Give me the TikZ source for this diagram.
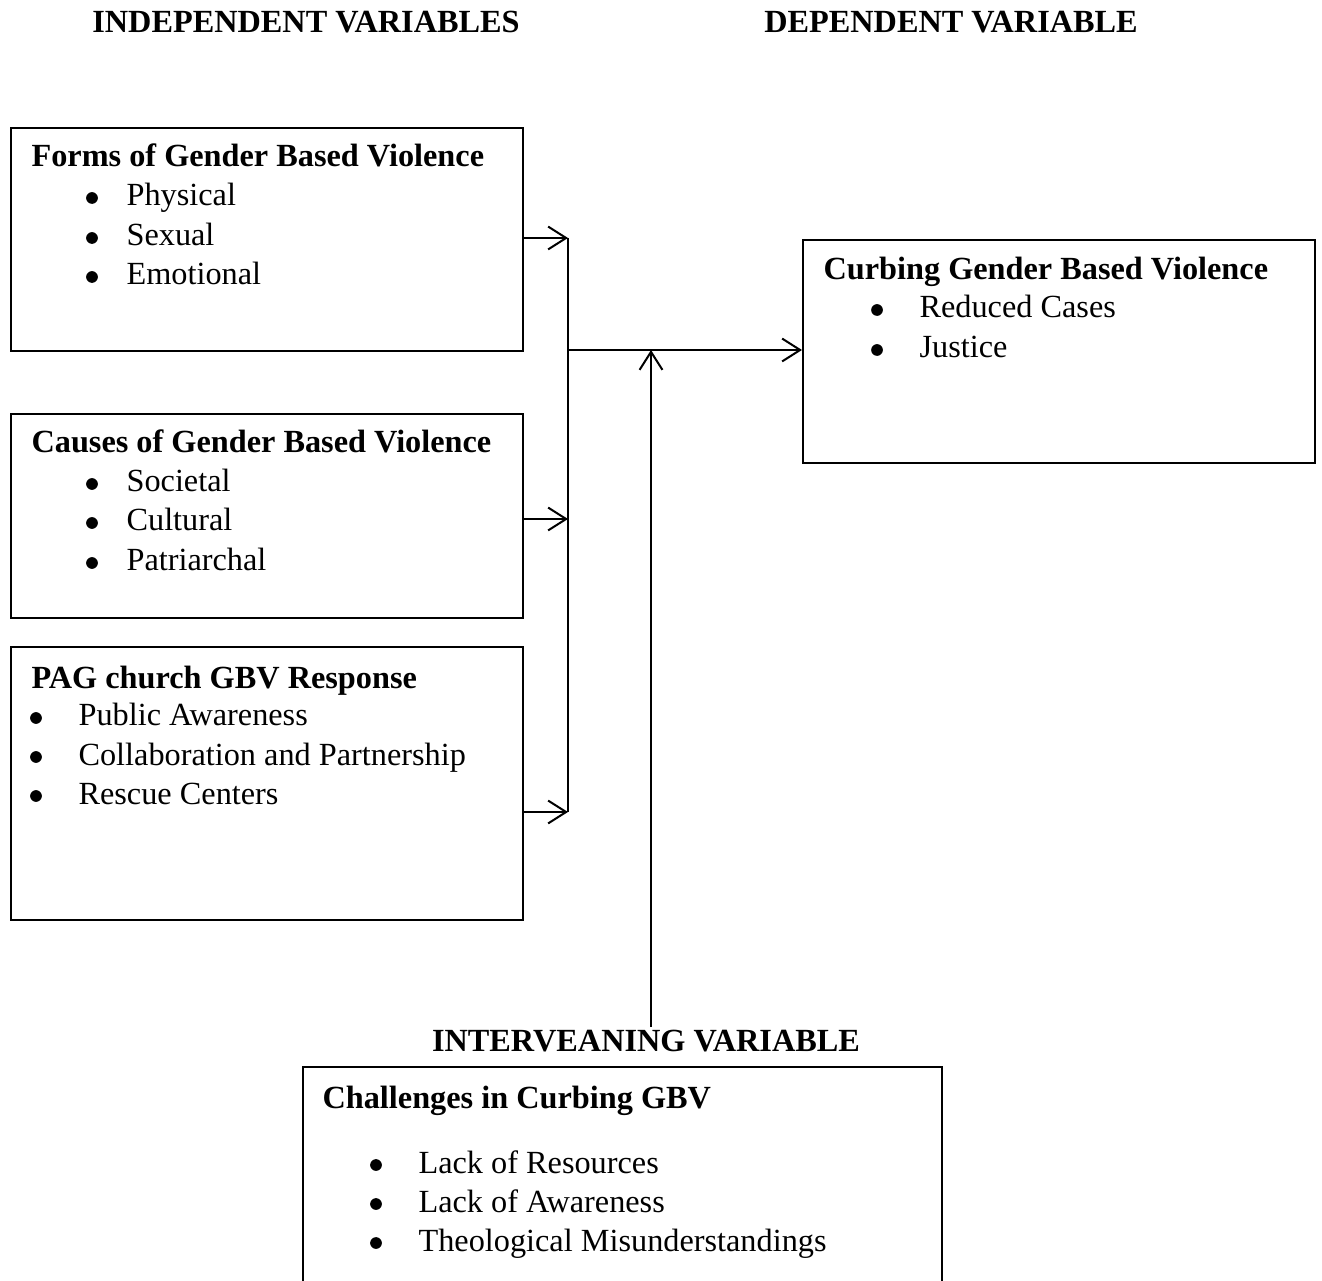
\documentclass[tikz,border=0pt]{standalone}
\usepackage{fontspec}
\setmainfont{Liberation Serif}
\usetikzlibrary{arrows.meta}
\begin{document}
\begin{tikzpicture}[x=0.35pt,y=-0.35pt,
  box/.style={draw, line width=0.7pt, anchor=north west, inner sep=0pt},
  ttl/.style={anchor=base west, inner sep=0pt, font=\bfseries\fontsize{11.3}{13}\selectfont},
  itm/.style={anchor=base west, inner sep=0pt, font=\fontsize{11.3}{13}\selectfont},
  dot/.style={circle, fill, inner sep=0pt, minimum size=4.1pt},
  hd/.style={anchor=base, inner sep=0pt, font=\bfseries\fontsize{11.3}{13}\selectfont},
  conn/.style={line width=0.7pt},
  arr/.style={line width=0.7pt, -{Straight Barb[length=6.3pt, width=8pt, line width=0.7pt]}}]
\useasboundingbox (0,0) rectangle (1322,1281);
\clip (0,0) rectangle (1322,1281);
% headings
\node[hd] (hIV) at (306,33) {INDEPENDENT VARIABLES};
\node[hd] (hDV) at (951,33) {DEPENDENT VARIABLE};
\node[hd] (hINT) at (646,1051) {INTERVEANING VARIABLE};
% boxes
\node[box, minimum width=512*0.35pt, minimum height=223*0.35pt] (b1) at (10,127) {};
\node[box, minimum width=512*0.35pt, minimum height=204*0.35pt] (b2) at (10,413) {};
\node[box, minimum width=512*0.35pt, minimum height=273*0.35pt] (b3) at (10,646) {};
\node[box, minimum width=512*0.35pt, minimum height=223*0.35pt] (b4) at (802,239) {};
\node[box, minimum width=639*0.35pt, minimum height=240*0.35pt] (b5) at (302,1066) {};
% box 1
\node[ttl] (t1) at (31,167) {Forms of Gender Based Violence};
\node[dot] (t1b1) at (92,198) {}; \node[itm] (t1i1) at (126,206) {Physical};
\node[dot] (t1b2) at (92,238) {}; \node[itm] (t1i2) at (126,246) {Sexual};
\node[dot] (t1b3) at (92,277) {}; \node[itm] (t1i3) at (126,285) {Emotional};
% box 2
\node[ttl] (t2) at (31,453) {Causes of Gender Based Violence};
\node[dot] (t2b1) at (92,484) {}; \node[itm] (t2i1) at (126,492) {Societal};
\node[dot] (t2b2) at (92,523) {}; \node[itm] (t2i2) at (126,531) {Cultural};
\node[dot] (t2b3) at (92,563) {}; \node[itm] (t2i3) at (126,571) {Patriarchal};
% box 3
\node[ttl] (t3) at (31,688) {PAG church GBV Response};
\node[dot] (t3b1) at (36,718) {}; \node[itm] (t3i1) at (78,726) {Public Awareness};
\node[dot] (t3b2) at (36,757) {}; \node[itm] (t3i2) at (78,765) {Collaboration and Partnership};
\node[dot] (t3b3) at (36,796) {}; \node[itm] (t3i3) at (78,804) {Rescue Centers};
% box 4
\node[ttl] (t4) at (823,280) {Curbing Gender Based Violence};
\node[dot] (t4b1) at (877,310) {}; \node[itm] (t4i1) at (919,318) {Reduced Cases};
\node[dot] (t4b2) at (877,350) {}; \node[itm] (t4i2) at (919,358) {Justice};
% box 5
\node[ttl] (t5) at (322,1108) {Challenges in Curbing GBV};
\node[dot] (t5b1) at (376,1165) {}; \node[itm] (t5i1) at (418,1173) {Lack of Resources};
\node[dot] (t5b2) at (376,1204) {}; \node[itm] (t5i2) at (418,1212) {Lack of Awareness};
\node[dot] (t5b3) at (376,1243) {}; \node[itm] (t5i3) at (418,1251) {Theological Misunderstandings};
% connectors
\coordinate (j1) at (568,238);
\coordinate (j2) at (568,519);
\coordinate (j3) at (568,812);
\coordinate (jm) at (568,350);
\coordinate (up) at (651,350);
\coordinate (iv) at (651,1027);
\draw[arr] (b1.east |- j1) -- (j1);
\draw[arr] (b2.east |- j2) -- (j2);
\draw[arr] (b3.east |- j3) -- (j3);
\draw[conn] (j1) -- (j3);
\draw[arr] (jm) -- (b4.west |- jm);
\draw[arr] (iv) -- (up);
\end{tikzpicture}
\end{document}
